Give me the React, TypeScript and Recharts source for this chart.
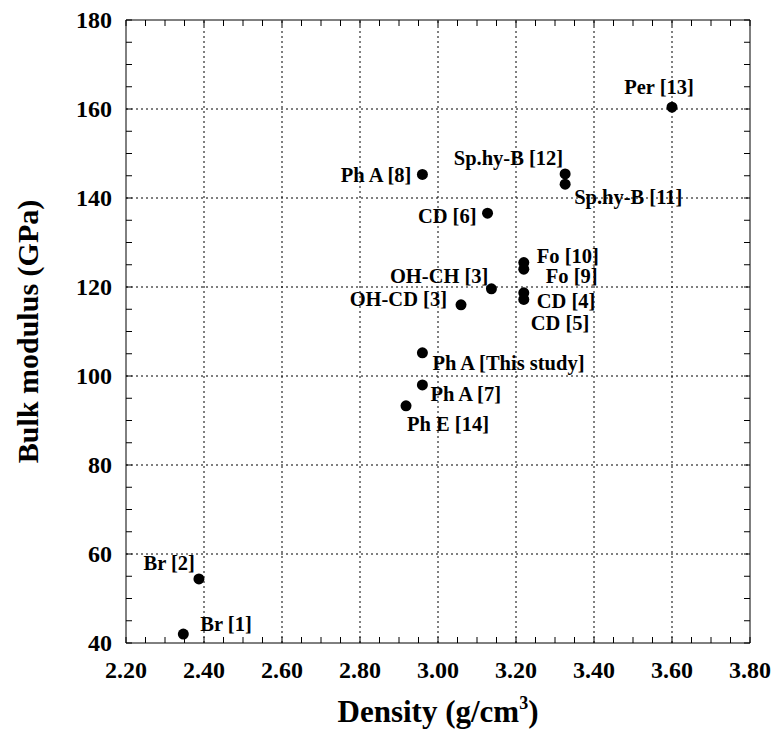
import React from 'react';
import { ScatterChart, Scatter, XAxis, YAxis, ReferenceLine } from 'recharts';

const names = [
  'Per [13]', 'Sp.hy-B [12]', 'Sp.hy-B [11]', 'Ph A [8]', 'CD [6]',
  'Fo [10]', 'Fo [9]', 'OH-CH [3]', 'CD [4]', 'CD [5]', 'OH-CD [3]',
  'Ph A [This study]', 'Ph A [7]', 'Ph E [14]', 'Br [2]', 'Br [1]',
];
const density = [3.60, 3.326, 3.326, 2.96, 3.127, 3.22, 3.22, 3.137, 3.22, 3.22, 3.059, 2.96, 2.96, 2.918, 2.387, 2.347];
const modulus = [160.4, 145.4, 143.1, 145.3, 136.6, 125.5, 124.0, 119.6, 118.7, 117.2, 116.0, 105.2, 98.0, 93.3, 54.4, 42.0];

const xMajorTicks = [2.2, 2.4, 2.6, 2.8, 3.0, 3.2, 3.4, 3.6, 3.8];
const yMajorTicks = [40, 60, 80, 100, 120, 140, 160, 180];

// label placement (anchor, offset from point centre to text baseline)
const labelPlacement: Record<string, [string, number, number]> = {
  'Per [13]': ['middle', -13, -13],
  'Sp.hy-B [12]': ['end', -2, -9],
  'Sp.hy-B [11]': ['start', 9, 20],
  'Ph A [8]': ['end', -11, 8],
  'CD [6]': ['end', -11, 10],
  'Fo [10]': ['start', 13, 0],
  'Fo [9]': ['start', 22, 14],
  'OH-CH [3]': ['end', -3, -6],
  'CD [4]': ['start', 13, 15],
  'CD [5]': ['start', 7, 31],
  'OH-CD [3]': ['end', -14, 1],
  'Ph A [This study]': ['start', 10, 17],
  'Ph A [7]': ['start', 8, 16],
  'Ph E [14]': ['start', 1, 25],
  'Br [2]': ['end', -4, -9],
  'Br [1]': ['start', 17, -3],
};

const data = names.map((name, i) => ({ name, x: density[i], y: modulus[i] }));

const withMinor = (majors: number[], step: number) => {
  const out: number[] = [];
  majors.forEach((v, i) => {
    out.push(v);
    if (i < majors.length - 1) {
      for (let k = 1; k < 4; k++) out.push(Math.round((v + k * step) * 1000) / 1000);
    }
  });
  return out;
};
const xTicks = withMinor(xMajorTicks, 0.05);
const yTicks = withMinor(yMajorTicks, 5);

const W = 773;
const H = 731;
const M = { top: 20, right: 23, left: 0, bottom: 0 };
const X_AXIS_H = 88;
const Y_AXIS_W = 126;
const PLOT_W = W - M.left - M.right - Y_AXIS_W;
const PLOT_H = H - M.top - M.bottom - X_AXIS_H;

const FONT = '"Liberation Serif", "Times New Roman", Times, serif';
const isMajorX = (v: number) => xMajorTicks.some((m) => Math.abs(m - v) < 1e-6);
const isMajorY = (v: number) => yMajorTicks.some((m) => Math.abs(m - v) < 1e-6);
const TL = 6;
const TICK_SIZE = 6;
const TC = '#000';

const BottomTick = (p: any) => {
  const v = p.payload.value;
  const ay = p.y - TICK_SIZE; // axis line
  const ty = ay - PLOT_H; // top border
  return (
    <g>
      <path d={`M${p.x},${ay}V${ay - TL}`} stroke={TC} strokeWidth={1} fill="none" />
      <path d={`M${p.x},${ty}V${ty + TL}`} stroke={TC} strokeWidth={1} fill="none" />
      {isMajorX(v) && (
        <text x={p.x} y={ay + 35} textAnchor="middle" fontFamily={FONT} fontWeight="bold" fontSize={24} fill="#000">
          {v.toFixed(2)}
        </text>
      )}
    </g>
  );
};
const LeftTick = (p: any) => {
  const v = p.payload.value;
  const ax = p.x + TICK_SIZE;
  const rx = ax + PLOT_W;
  return (
    <g>
      <path d={`M${ax},${p.y}H${ax + TL}`} stroke={TC} strokeWidth={1} fill="none" />
      <path d={`M${rx},${p.y}H${rx - TL}`} stroke={TC} strokeWidth={1} fill="none" />
      {isMajorY(v) && (
        <text x={ax - 14} y={p.y + 8} textAnchor="end" fontFamily={FONT} fontWeight="bold" fontSize={24} fill="#000">
          {v}
        </text>
      )}
    </g>
  );
};

const XTitle = (p: any) => {
  const vb = p.viewBox || {};
  const cx = vb.x + vb.width / 2;
  const y = vb.y + 79;
  return (
    <text x={cx} y={y} textAnchor="middle" fontFamily={FONT} fontWeight="bold" fontSize={31} fill="#000">
      Density (g/cm
      <tspan fontSize={18} dy={-13}>3</tspan>
      <tspan dy={13}>)</tspan>
    </text>
  );
};
const YTitle = (p: any) => {
  const vb = p.viewBox || {};
  const cy = vb.y + vb.height / 2;
  return (
    <text transform={`translate(38, ${cy}) rotate(-90)`} textAnchor="middle" fontFamily={FONT} fontWeight="bold" fontSize={30} fill="#000">
      Bulk modulus (GPa)
    </text>
  );
};

const PointShape = (p: any) => {
  const name = p.payload?.name as string;
  const [anchor, dx, dy] = labelPlacement[name] || ['start', 8, 0];
  return (
    <g>
      <circle cx={p.cx} cy={p.cy} r={5.5} fill="#000" />
      <text x={p.cx + dx} y={p.cy + dy} textAnchor={anchor as any} fontFamily={FONT} fontWeight="bold" fontSize={20.5} fill="#000">
        {name}
      </text>
    </g>
  );
};

export default function App() {
  return (
    <div style={{ position: 'absolute', left: 0, top: 0, width: W, height: H, background: '#fff' }}>
      <ScatterChart width={W} height={H} margin={M}>
        <XAxis
          xAxisId="b" dataKey="x" type="number" domain={[2.2, 3.8]} allowDataOverflow
          ticks={xTicks} interval={0} tickSize={TICK_SIZE} tickMargin={0} tick={<BottomTick />} tickLine={false}
          axisLine={{ stroke: '#000', strokeWidth: 1 }} height={X_AXIS_H} orientation="bottom"
          label={<XTitle />}
        />
        <YAxis
          yAxisId="l" dataKey="y" type="number" domain={[40, 180]} allowDataOverflow
          ticks={yTicks} interval={0} tickSize={TICK_SIZE} tickMargin={0} tick={<LeftTick />} tickLine={false}
          axisLine={{ stroke: '#000', strokeWidth: 1 }} width={Y_AXIS_W} orientation="left"
          label={<YTitle />}
        />
        {xMajorTicks.slice(1, -1).map((v) => (
          <ReferenceLine key={'gx' + v} xAxisId="b" yAxisId="l" x={v} stroke="#000" strokeWidth={1} strokeDasharray="2 3" />
        ))}
        {yMajorTicks.slice(1, -1).map((v) => (
          <ReferenceLine key={'gy' + v} xAxisId="b" yAxisId="l" y={v} stroke="#000" strokeWidth={1} strokeDasharray="2 3" />
        ))}
        <ReferenceLine xAxisId="b" yAxisId="l" y={180} stroke="#000" strokeWidth={1} />
        <ReferenceLine xAxisId="b" yAxisId="l" x={3.8} stroke="#000" strokeWidth={1} />
        <Scatter xAxisId="b" yAxisId="l" data={data} shape={<PointShape />} isAnimationActive={false} />
      </ScatterChart>
    </div>
  );
}
